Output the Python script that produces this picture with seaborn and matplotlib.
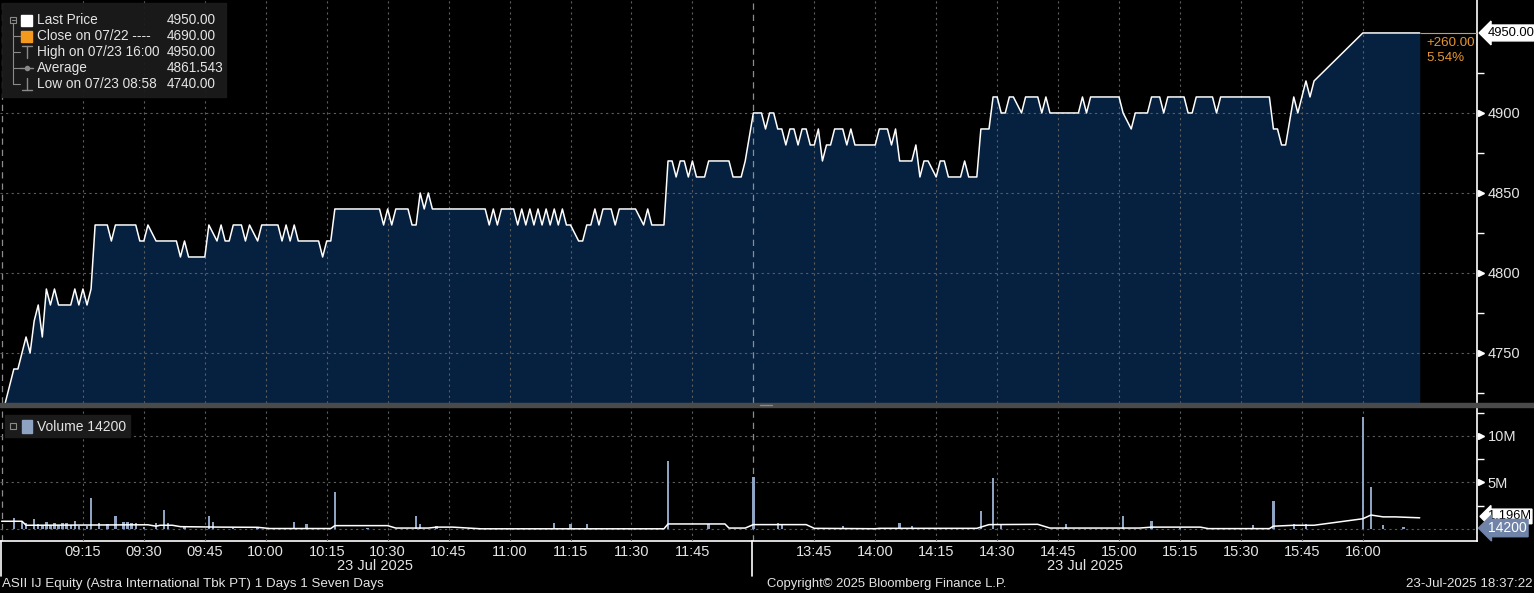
import matplotlib
matplotlib.use("Agg")
import matplotlib.pyplot as plt
import matplotlib.transforms as mtransforms
from matplotlib.patches import Rectangle
from matplotlib.lines import Line2D
import seaborn as sns
import pandas as pd

# ---------------- data ----------------
price_times = ["08:53", "08:58", "08:59", "09:01", "09:02", "09:03", "09:04", "09:05", "09:06", "09:07",
               "09:08", "09:09", "09:12", "09:13", "09:14", "09:15", "09:16", "09:17", "09:18", "09:21",
               "09:22", "09:23", "09:28", "09:29", "09:30", "09:31", "09:33", "09:38", "09:39", "09:40",
               "09:41", "09:45", "09:46", "09:48", "09:49", "09:50", "09:51", "09:52", "09:54", "09:55",
               "09:56", "09:58", "09:59", "10:03", "10:04", "10:05", "10:06", "10:07", "10:08", "10:13",
               "10:14", "10:15", "10:16", "10:17", "10:28", "10:29", "10:30", "10:31", "10:32", "10:35",
               "10:36", "10:37", "10:38", "10:39", "10:40", "10:41", "10:54", "10:55", "10:56", "10:57",
               "10:58", "11:01", "11:02", "11:03", "11:04", "11:05", "11:06", "11:07", "11:08", "11:09",
               "11:10", "11:11", "11:12", "11:13", "11:14", "11:15", "11:17", "11:18", "11:19", "11:20",
               "11:21", "11:22", "11:23", "11:25", "11:26", "11:27", "11:31", "11:33", "11:34", "11:35",
               "11:38", "11:39", "11:40", "11:41", "11:42", "11:43", "11:44", "11:45", "11:46", "11:48",
               "11:49", "11:54", "11:55", "11:57", "11:58",
               "13:30", "13:32", "13:33", "13:34", "13:35", "13:36", "13:37", "13:38", "13:39", "13:40",
               "13:41", "13:42", "13:43", "13:44", "13:45", "13:46", "13:47", "13:48", "13:49", "13:50",
               "13:52", "13:53", "13:54", "13:55", "14:00", "14:01", "14:03", "14:04", "14:05", "14:06",
               "14:09", "14:10", "14:11", "14:12", "14:13", "14:15", "14:16", "14:17", "14:18", "14:21",
               "14:22", "14:23", "14:25", "14:26", "14:28", "14:29", "14:30", "14:31", "14:32", "14:33",
               "14:34", "14:36", "14:37", "14:40", "14:41", "14:42", "14:43", "14:50", "14:51", "14:52",
               "14:53", "15:00", "15:01", "15:03", "15:04", "15:07", "15:08", "15:10", "15:11", "15:12",
               "15:16", "15:17", "15:18", "15:19", "15:23", "15:24", "15:25", "15:37", "15:38", "15:39",
               "15:40", "15:41", "15:43", "15:44", "15:46", "15:47", "15:48", "16:00", "16:14"]
price_values = [4690, 4740, 4740, 4760, 4750, 4770, 4780, 4760, 4790, 4780,
                4790, 4780, 4780, 4790, 4780, 4790, 4780, 4790, 4830, 4830,
                4820, 4830, 4830, 4820, 4820, 4830, 4820, 4820, 4810, 4820,
                4810, 4810, 4830, 4820, 4830, 4820, 4820, 4830, 4830, 4820,
                4830, 4820, 4830, 4830, 4820, 4830, 4820, 4830, 4820, 4820,
                4810, 4820, 4820, 4840, 4840, 4830, 4840, 4830, 4840, 4840,
                4830, 4830, 4850, 4840, 4850, 4840, 4840, 4830, 4840, 4830,
                4840, 4840, 4830, 4840, 4830, 4840, 4830, 4840, 4830, 4840,
                4830, 4840, 4830, 4840, 4830, 4830, 4820, 4820, 4830, 4830,
                4840, 4830, 4840, 4840, 4830, 4840, 4840, 4830, 4840, 4830,
                4830, 4870, 4870, 4860, 4870, 4870, 4860, 4870, 4860, 4860,
                4870, 4870, 4860, 4860, 4870,
                4900, 4900, 4890, 4900, 4900, 4890, 4890, 4880, 4890, 4890,
                4880, 4890, 4890, 4880, 4880, 4890, 4870, 4880, 4880, 4890,
                4890, 4880, 4890, 4880, 4880, 4890, 4890, 4880, 4890, 4870,
                4870, 4880, 4860, 4870, 4870, 4860, 4870, 4870, 4860, 4860,
                4870, 4860, 4860, 4890, 4890, 4910, 4910, 4900, 4900, 4910,
                4910, 4900, 4910, 4910, 4900, 4910, 4900, 4900, 4910, 4900,
                4910, 4910, 4900, 4890, 4900, 4900, 4910, 4910, 4900, 4910,
                4910, 4900, 4900, 4910, 4910, 4900, 4910, 4910, 4890, 4890,
                4880, 4880, 4910, 4900, 4920, 4910, 4920, 4950, 4950]

vol_times = ["08:58", "09:00", "09:01", "09:03", "09:04", "09:05", "09:06", "09:07", "09:08", "09:09",
             "09:10", "09:11", "09:12", "09:13", "09:14", "09:16", "09:17", "09:19", "09:21", "09:23",
             "09:25", "09:26", "09:27", "09:28", "09:30", "09:33", "09:35", "09:36", "09:40", "09:46",
             "09:47", "09:52", "09:58", "10:04", "10:07", "10:10", "10:17", "10:25", "10:37", "10:38",
             "10:42", "10:50", "11:03", "11:11", "11:15", "11:19", "11:28", "11:39", "11:49",
             "13:30", "13:36", "13:37", "13:52", "14:06", "14:09", "14:20", "14:26", "14:29", "14:31",
             "14:47", "15:01", "15:08", "15:15", "15:33", "15:38", "15:43", "15:46", "16:00", "16:02",
             "16:05", "16:10", "16:14"]
vol_values = [1.2, 0.8, 0.65, 1.1, 0.5, 0.4, 0.8, 0.4, 0.65, 0.4,
              0.6, 0.6, 0.4, 0.9, 0.3, 0.3, 3.3, 0.6, 0.5, 1.4,
              0.8, 0.7, 0.6, 0.65, 0.2, 0.6, 2.0, 0.6, 0.2, 1.4,
              0.8, 0.15, 0.1, 0.1, 0.7, 0.5, 4.0, 0.15, 1.4, 0.5,
              0.3, 0.1, 0.15, 0.6, 0.5, 0.5, 0.1, 7.3, 0.5,
              5.6, 0.65, 0.4, 0.3, 0.6, 0.3, 0.1, 1.9, 5.5, 0.5,
              0.5, 1.4, 0.9, 0.15, 0.4, 3.0, 0.5, 0.5, 12.0, 4.5,
              0.4, 0.2, 0.0142]  # millions

avg_times = ["08:55", "09:00", "09:01", "09:31", "09:33", "09:34", "09:37", "09:39", "09:49", "09:58",
             "10:01", "10:16", "10:17", "10:30", "10:32", "10:40", "10:42", "10:46", "10:53", "11:38",
             "11:39", "11:53", "11:54", "11:58", "13:30", "13:43", "13:45", "14:00", "14:01", "14:25",
             "14:28", "14:40", "14:43", "15:05", "15:08", "15:20", "15:22", "15:37", "15:38", "15:43",
             "15:48", "16:00", "16:02", "16:05", "16:08", "16:14"]
avg_values = [0.83, 0.83, 0.4, 0.45, 0.3, 0.4, 0.4, 0.25, 0.2, 0.18,
              0.05, 0.05, 0.36, 0.36, 0.1, 0.1, 0.2, 0.2, 0.02, 0.02,
              0.54, 0.54, 0.1, 0.1, 0.47, 0.47, 0.07, 0.03, 0.07, 0.07,
              0.47, 0.5, 0.1, 0.1, 0.2, 0.2, 0.04, 0.04, 0.3, 0.4,
              0.4, 1.1, 1.5, 1.3, 1.3, 1.2]

price_ticks = [4750, 4800, 4850, 4900]
price_minor = [4725, 4775, 4825, 4875, 4925]
vol_ticks = [5, 10]
vol_tick_labels = ["5M", "10M"]
vol_minor = [2.5, 7.5, 12.5]
x_tick_times = ["09:15", "09:30", "09:45", "10:00", "10:15", "10:30", "10:45", "11:00", "11:15", "11:30",
                "11:45", "13:45", "14:00", "14:15", "14:30", "14:45", "15:00", "15:15", "15:30", "15:45",
                "16:00"]
session_breaks = ["08:55", "12:00"]

legend_labels = ["Last Price", "Close on 07/22 ----", "High on 07/23 16:00", "Average", "Low on 07/23 08:58"]
legend_values = ["4950.00", "4690.00", "4950.00", "4861.543", "4740.00"]
avg_label = "1.196M"
change_text = ["+260.00", "5.54%"]


def sess_min(s):
    h, m = map(int, s.split(":"))
    t = h * 60 + m
    return t - 540 if t <= 720 else 180 + (t - 810)


# ---------------- style ----------------
sns.set_theme(style="dark")
FONT = ["Liberation Sans", "DejaVu Sans"]
plt.rcParams["font.family"] = FONT
plt.rcParams["axes.facecolor"] = "black"
plt.rcParams["figure.facecolor"] = "black"

W, H = 1534, 593
fig = plt.figure(figsize=(W / 100, H / 100), dpi=100, facecolor="black")


def fx(x):
    return x / W


def fy(y):
    return 1 - y / H


ax_p = fig.add_axes([0, fy(403), fx(1477), 403 / H])
ax_v = fig.add_axes([0, fy(541), fx(1477), (541 - 407) / H])

XMIN, XMAX = -5.41, 358.1
TXT = "#e4e4e4"
GRID = "#5c5c5c"
FILL = "#06203f"
VOLC = "#8ea3c2"

# ---------------- price panel ----------------
dfp = pd.DataFrame({"t": [sess_min(s) for s in price_times], "p": price_values})
ax_p.fill_between(dfp["t"], dfp["p"], 4600, color=FILL, lw=0, zorder=1)
sns.lineplot(data=dfp, x="t", y="p", ax=ax_p, color="white", lw=1.1,
             estimator=None, sort=False, zorder=4)
ax_p.set_xlim(XMIN, XMAX)
ax_p.set_ylim(4718.75, 4970.6)

# last price reference line (tan) from end of data to the axis
ax_p.hlines(price_values[-1], dfp["t"].iloc[-1], XMAX, color="#c99a6a", lw=0.8, zorder=3)

for ax in (ax_p, ax_v):
    ax.set_xticks([sess_min(t) for t in x_tick_times])
    ax.grid(True, which="major", ls=(0, (2, 3)), color=GRID, lw=0.8)
    ax.set_axisbelow(False)
    for b in session_breaks:
        ax.axvline(sess_min(b), color="#8c8c8c", ls=(0, (5, 4)), lw=0.9, zorder=2)
    for sp in ax.spines.values():
        sp.set_visible(False)
    ax.spines["right"].set_visible(True)
    ax.spines["right"].set_color("white")
    ax.spines["right"].set_linewidth(1.2)
    ax.yaxis.tick_right()
    ax.set_xlabel("")
    ax.set_ylabel("")
    ax.tick_params(axis="y", which="major", length=0, pad=7.5, labelcolor=TXT, labelsize=10.5)
    ax.tick_params(axis="y", which="minor", length=5, width=1, color="white", direction="out")

ax_p.set_yticks(price_ticks)
ax_p.set_yticklabels([str(v) for v in price_ticks])
ax_p.set_yticks(price_minor, minor=True)
ax_p.tick_params(axis="x", length=0, labelbottom=False)

bt_p = mtransforms.blended_transform_factory(ax_p.transAxes, ax_p.transData)
ax_p.plot([1.003] * len(price_ticks), price_ticks, ls="none", marker=">", ms=5,
          color="white", transform=bt_p, clip_on=False)

# last price box & change
ax_p.text(1.0072, price_values[-1], legend_values[0], transform=bt_p, ha="left", va="center",
          fontsize=9.4, color="black",
          bbox=dict(boxstyle="larrow,pad=0.15", fc="white", ec="white"), clip_on=False, zorder=6)
fig.text(fx(1426), fy(43), change_text[0], color="#e8962e", fontsize=9.6, ha="left", va="center")
fig.text(fx(1426), fy(58), change_text[1], color="#e8962e", fontsize=9.6, ha="left", va="center")

# ---------------- volume panel ----------------
vx = [sess_min(s) for s in vol_times]
ax_v.bar(vx, vol_values, width=0.6, color=VOLC, lw=0, zorder=3)
dfa = pd.DataFrame({"t": [sess_min(s) for s in avg_times], "v": avg_values})
sns.lineplot(data=dfa, x="t", y="v", ax=ax_v, color="white", lw=1.1,
             estimator=None, sort=False, zorder=4)
ax_v.set_xlim(XMIN, XMAX)
ax_v.set_ylim(-1.29, 13.1)
ax_v.set_yticks([0] + vol_ticks)
ax_v.set_yticklabels([""] + vol_tick_labels)
ax_v.set_yticks(vol_minor, minor=True)
ax_v.spines["bottom"].set_visible(True)
ax_v.spines["bottom"].set_color("white")
ax_v.spines["bottom"].set_linewidth(1.2)
ax_v.set_xticklabels(x_tick_times)
ax_v.tick_params(axis="x", length=0, pad=3, labelcolor=TXT, labelsize=10.5)
ax_v.set_xlabel("")
ax_v.set_ylabel("")

bt_v = mtransforms.blended_transform_factory(ax_v.transAxes, ax_v.transData)
ax_v.plot([1.003] * len(vol_ticks), vol_ticks, ls="none", marker=">", ms=5,
          color="white", transform=bt_v, clip_on=False)
ax_v.text(1.0072, 1.35, avg_label, transform=bt_v, ha="left", va="center", fontsize=9.3,
          color="black", bbox=dict(boxstyle="larrow,pad=0.1", fc="white", ec="white"),
          clip_on=False, zorder=6)
ax_v.text(1.0072, 0.1, f"{int(round(vol_values[-1] * 1e6))}", transform=bt_v, ha="left",
          va="center", fontsize=10, color="white",
          bbox=dict(boxstyle="larrow,pad=0.12", fc="#6f84a8", ec="#6f84a8"),
          clip_on=False, zorder=7)

# ---------------- frame decorations ----------------
fig.patches.append(Rectangle((0, fy(407)), 1, 4 / H, transform=fig.transFigure,
                             color="#4a4a4a", zorder=0))
fig.add_artist(Line2D([fx(760), fx(772)], [fy(404.5), fy(404.5)], color="#8a8a8a", lw=1))
for xv in (0.5, 752):
    fig.add_artist(Line2D([fx(xv), fx(xv)], [fy(541), fy(576)], color="white", lw=1.2))
fig.text(fx(375), fy(566), "23 Jul 2025", color=TXT, fontsize=10.5, ha="center", va="center")
fig.text(fx(1085), fy(566), "23 Jul 2025", color=TXT, fontsize=10.5, ha="center", va="center")

fig.text(fx(2), fy(584), "ASII IJ Equity (Astra International Tbk PT) 1 Days 1 Seven Days",
         color=TXT, fontsize=9.6, ha="left", va="center")
fig.text(fx(887), fy(584), "Copyright\u00a9 2025 Bloomberg Finance L.P.", color=TXT,
         fontsize=9.4, ha="center", va="center")
fig.text(fx(1532), fy(584), "23-Jul-2025 18:37:22", color=TXT, fontsize=9.6,
         ha="right", va="center")

# ---------------- price legend box ----------------
fig.patches.append(Rectangle((fx(2), fy(97)), fx(224), 94 / H, transform=fig.transFigure,
                             color="#1b1b1b", alpha=0.95, zorder=5))
rows = [20, 36, 52, 68, 84]
tree = "#8a8a8a"
fig.add_artist(Rectangle((fx(10), fy(23)), fx(6), 6 / H, transform=fig.transFigure,
                         fill=False, ec=tree, lw=0.8, zorder=6))
fig.add_artist(Line2D([fx(11.5), fx(14.5)], [fy(20), fy(20)], color=tree, lw=0.8, zorder=6))
fig.add_artist(Line2D([fx(13), fx(13)], [fy(23), fy(84)], color=tree, lw=0.8, zorder=6))
for r in rows[1:]:
    fig.add_artist(Line2D([fx(13), fx(20)], [fy(r), fy(r)], color=tree, lw=0.8, zorder=6))
fig.add_artist(Rectangle((fx(21), fy(26)), fx(11), 11 / H, transform=fig.transFigure,
                         color="white", zorder=6))
fig.add_artist(Rectangle((fx(21), fy(42)), fx(11), 11 / H, transform=fig.transFigure,
                         color="#f39a1e", zorder=6))
# high icon (T), average icon, low icon
fig.add_artist(Line2D([fx(22), fx(32)], [fy(46), fy(46)], color=tree, lw=1, zorder=6))
fig.add_artist(Line2D([fx(27), fx(27)], [fy(46), fy(58)], color=tree, lw=1, zorder=6))
fig.add_artist(Line2D([fx(20), fx(33)], [fy(68), fy(68)], color=tree, lw=1, zorder=6))
fig.add_artist(Line2D([fx(26.5)], [fy(68)], color=tree, marker="o", ms=3, ls="none", zorder=6))
fig.add_artist(Line2D([fx(22), fx(32)], [fy(90), fy(90)], color=tree, lw=1, zorder=6))
fig.add_artist(Line2D([fx(27), fx(27)], [fy(78), fy(90)], color=tree, lw=1, zorder=6))
for r, lab, val in zip(rows, legend_labels, legend_values):
    fig.text(fx(37), fy(r), lab, color=TXT, fontsize=9.8, ha="left", va="center", zorder=7)
    fig.text(fx(167), fy(r), val, color=TXT, fontsize=9.8, ha="left", va="center", zorder=7)

# ---------------- volume legend box ----------------
fig.patches.append(Rectangle((fx(5), fy(437)), fx(125), 22 / H, transform=fig.transFigure,
                             color="#1b1b1b", zorder=5))
fig.add_artist(Rectangle((fx(10), fy(429)), fx(6), 6 / H, transform=fig.transFigure,
                         fill=False, ec=tree, lw=0.8, zorder=6))
fig.add_artist(Rectangle((fx(22), fy(433)), fx(10), 13 / H, transform=fig.transFigure,
                         color=VOLC, zorder=6))
fig.text(fx(37), fy(427), f"Volume {int(round(vol_values[-1] * 1e6))}", color=TXT, fontsize=10,
         ha="left", va="center", zorder=7)

fig.savefig("out.png", dpi=100, facecolor="black")
